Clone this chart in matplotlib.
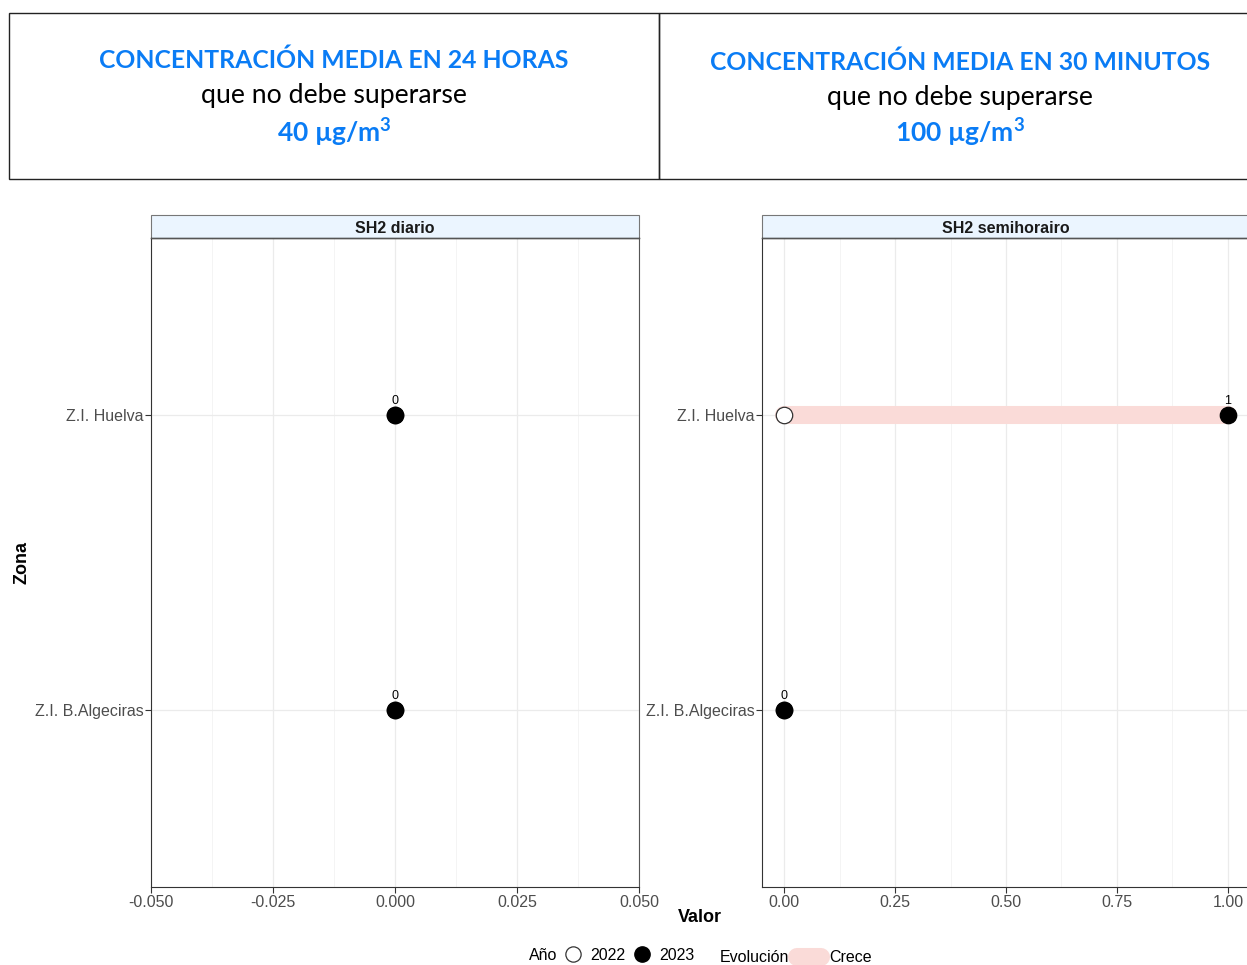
import numpy as np
import matplotlib
matplotlib.use("Agg")
import matplotlib.pyplot as plt
from matplotlib.patches import Rectangle
from matplotlib.lines import Line2D

plt.rcParams['font.family'] = ['Liberation Sans', 'DejaVu Sans']
plt.rcParams['mathtext.fontset'] = 'custom'
plt.rcParams['mathtext.rm'] = 'Lato:bold'
plt.rcParams['mathtext.bf'] = 'Lato:bold'

# data
zonas = ["Z.I. B.Algeciras", "Z.I. Huelva"]
diario_2022 = [0, 0]
diario_2023 = [0, 0]
semi_2022 = [0, 0]
semi_2023 = [0, 1]

paneles = [
    ("SH2 diario", diario_2022, diario_2023, (-0.05, 0.05),
     [-0.05, -0.025, 0.0, 0.025, 0.05], ["-0.050", "-0.025", "0.000", "0.025", "0.050"]),
    ("SH2 semihorairo", semi_2022, semi_2023, (-0.05, 1.05),
     [0, 0.25, 0.5, 0.75, 1.0], ["0.00", "0.25", "0.50", "0.75", "1.00"]),
]

W, H = 1247, 965
fig = plt.figure(figsize=(W / 100, H / 100), dpi=100)

def fx(x):
    return x / W

def fy(y):
    return 1 - y / H

blue = "#0A7CF5"
hfont = ['Lato', 'DejaVu Sans']

# header boxes
fig.add_artist(Rectangle((fx(9), fy(179)), fx(650), (166) / H, transform=fig.transFigure,
                         fill=False, ec="#222222", lw=1.0))
fig.add_artist(Rectangle((fx(659), fy(179)), fx(600), (166) / H, transform=fig.transFigure,
                         fill=False, ec="#222222", lw=1.0, clip_on=False))

cabeceras = [
    (334, "CONCENTRACIÓN MEDIA EN 24 HORAS", r"40 µg/m$^{\mathrm{3}}$", (60, 95, 132)),
    (960, "CONCENTRACIÓN MEDIA EN 30 MINUTOS", r"100 µg/m$^{\mathrm{3}}$", (62, 97, 132)),
]
for cx, t1, t3, ys in cabeceras:
    fig.text(fx(cx), fy(ys[0]), t1, ha="center", va="center", color=blue,
             fontsize=17.8, fontweight="bold", family=hfont)
    fig.text(fx(cx), fy(ys[1]), "que no debe superarse", ha="center", va="center",
             color="black", fontsize=19.2, family=hfont)
    fig.text(fx(cx), fy(ys[2]), t3, ha="center", va="center", color=blue,
             fontsize=19, fontweight="bold", family=hfont)

pink = "#FADBD8"
for i, (titulo, v22, v23, xlim, ticks, tlabels) in enumerate(paneles):
    left = 151 if i == 0 else 762
    ax = fig.add_axes([fx(left), fy(887), 488 / W, 649 / H])
    ypos = np.arange(len(zonas))
    for y, a, b in zip(ypos, v22, v23):
        ax.plot([a, b], [y, y], color=pink, lw=13, solid_capstyle="round", zorder=2)
    ax.scatter(v22, ypos, s=140, facecolor="white", edgecolor="#333333", lw=0.9, zorder=3)
    ax.scatter(v23, ypos, s=140, facecolor="black", edgecolor="black", lw=0.9, zorder=4)
    for y, b in zip(ypos, v23):
        ax.annotate(str(b), (b, y), xytext=(0, 5.5), textcoords="offset points",
                    ha="center", va="bottom", fontsize=9, color="black", zorder=5)
    ax.set_xlim(*xlim)
    ax.set_ylim(-0.6, len(zonas) - 0.4)
    ax.set_xticks(ticks)
    ax.set_xticklabels(tlabels)
    minors = [(ticks[k] + ticks[k + 1]) / 2 for k in range(len(ticks) - 1)]
    ax.set_xticks(minors, minor=True)
    ax.set_yticks(ypos)
    ax.set_yticklabels(zonas)
    ax.tick_params(axis="both", which="major", labelsize=11.5, labelcolor="#4D4D4D",
                   color="#333333", length=4, width=0.8, pad=1.5)
    ax.tick_params(axis="x", which="minor", length=0)
    ax.grid(True, which="major", color="#EBEBEB", lw=0.9)
    ax.grid(True, which="minor", axis="x", color="#F2F2F2", lw=0.6)
    ax.set_axisbelow(True)
    for s in ax.spines.values():
        s.set_color("#555555")
        s.set_linewidth(0.8)
    ax.spines["left"].set_color("#333333")
    ax.spines["bottom"].set_color("#333333")
    # strip
    sh = 23 / 649
    ax.add_patch(Rectangle((0, 1), 1, sh, transform=ax.transAxes, clip_on=False,
                           fc="#EBF5FF", ec="#777777", lw=0.8))
    ax.plot([0, 1], [1, 1], transform=ax.transAxes, color="#222222", lw=1.0, clip_on=False)
    ax.text(0.5, 1 + sh / 2 - 0.003, titulo, transform=ax.transAxes, ha="center",
            va="center", fontsize=11.5, fontweight="bold", color="#1A1A1A")

fig.text(fx(22), fy(563), "Zona", rotation=90, ha="center", va="center",
         fontsize=13, fontweight="bold")
fig.text(fx(700), fy(917), "Valor", ha="center", va="center", fontsize=13, fontweight="bold")

# legend
fig.text(fx(529), fy(955), "Año", ha="left", va="center", fontsize=11.5)
fig.add_artist(Line2D([fx(573)], [fy(954)], marker="o", ms=11, mfc="white", mec="#333333",
                      mew=0.9, transform=fig.transFigure))
fig.text(fx(590), fy(955), "2022", ha="left", va="center", fontsize=11.5)
fig.add_artist(Line2D([fx(642)], [fy(954)], marker="o", ms=11, mfc="black", mec="black",
                      transform=fig.transFigure))
fig.text(fx(659), fy(955), "2023", ha="left", va="center", fontsize=11.5)
fig.text(fx(720), fy(957), "Evolución", ha="left", va="center", fontsize=11.5)
fig.add_artist(Line2D([fx(797), fx(821)], [fy(957), fy(957)], color=pink, lw=13,
                      solid_capstyle="round", transform=fig.transFigure))
fig.text(fx(829), fy(957), "Crece", ha="left", va="center", fontsize=11.5)

fig.savefig("out.png", dpi=100)
